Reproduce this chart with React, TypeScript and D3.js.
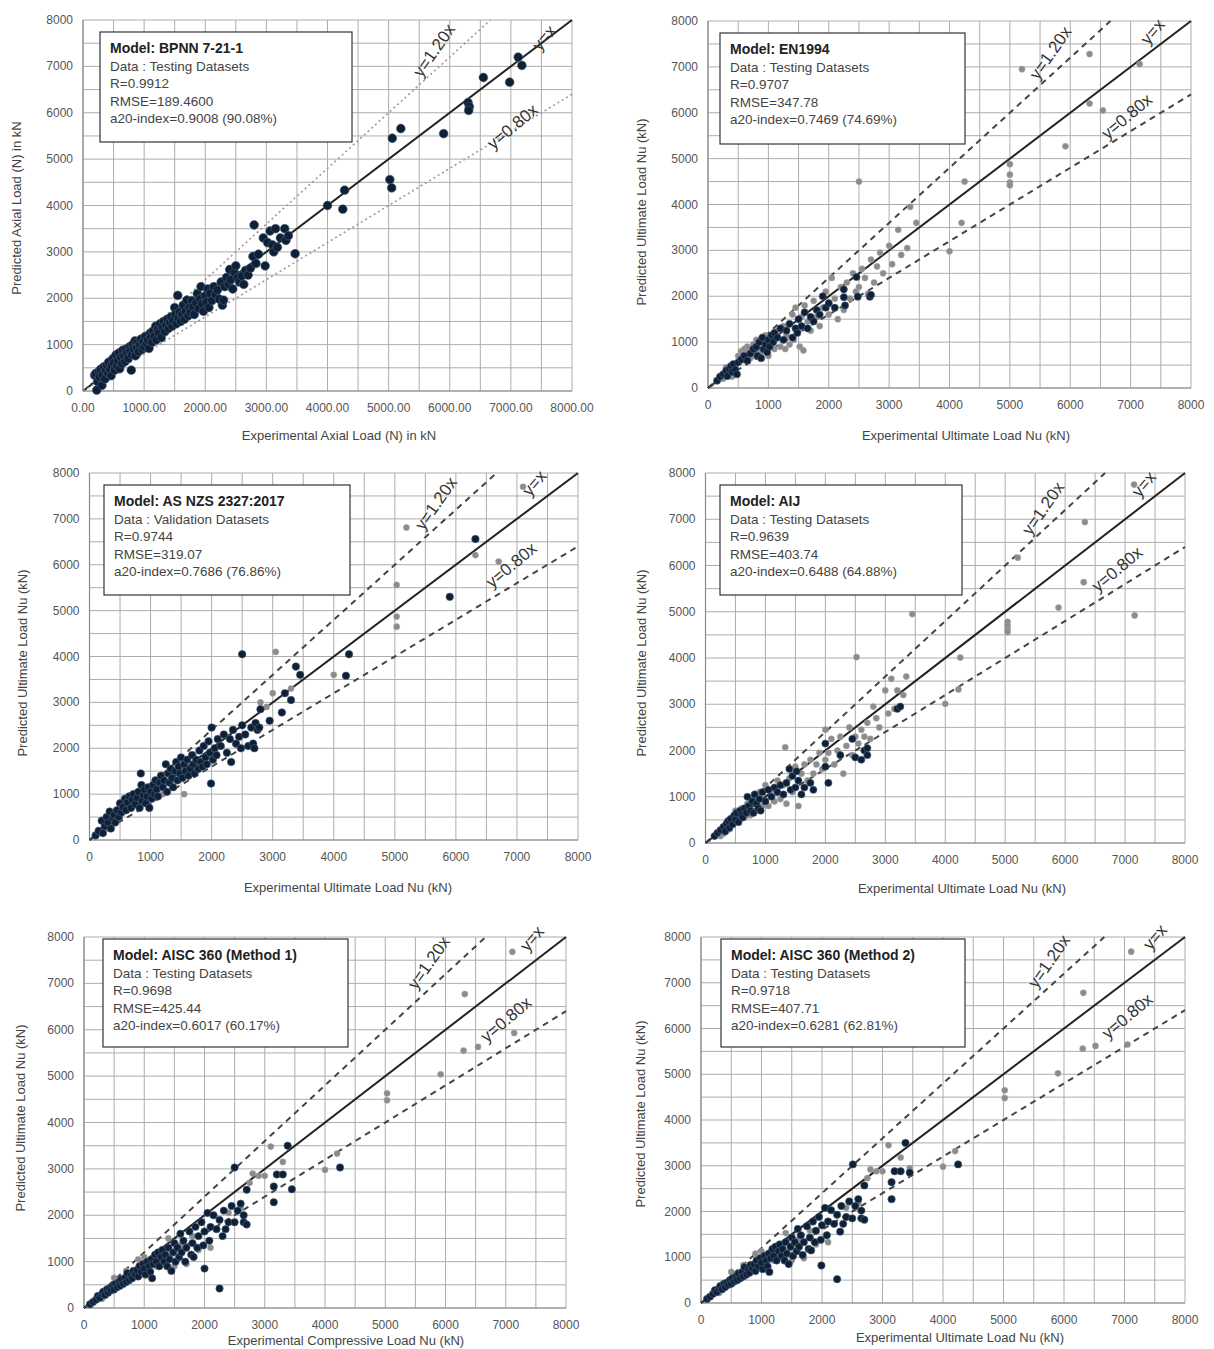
import React from "react";
import * as d3 from "d3";

// ---------- data: [experimental, predicted] in kN ----------
const bpnnPoints: [number, number][] = [
  [190,340],[210,380],[225,20],[240,200],[260,420],[275,300],[290,470],[310,120],[320,350],[340,520],[360,260],[370,440],[390,560],[410,380],[420,620],[440,480],[460,330],[470,560],[490,700],[505,610],[520,450],[540,780],[555,540],[570,660],[590,820],[600,480],[620,720],[640,590],[650,880],[670,760],[690,640],[700,900],[720,820],[740,700],[760,950],[770,860],[790,450],[800,780],[810,1000],[830,900],[850,1080],[860,760],[880,940],[900,1050],[910,850],[930,1000],[950,1120],[970,900],[990,1050],[1000,950],[1020,1180],[1040,1020],[1060,1100],[1080,920],[1100,1250],[1110,1150],[1130,1050],[1150,1300],[1170,1180],[1190,1400],[1200,1100],[1220,1320],[1240,1250],[1260,1450],[1280,1150],[1300,1380],[1320,1500],[1340,1280],[1360,1420],[1380,1550],[1400,1350],[1420,1480],[1440,1600],[1460,1400],[1480,1520],[1500,1800],[1510,1650],[1530,1450],[1550,2060],[1560,1580],[1580,1700],[1600,1500],[1620,1650],[1640,1850],[1660,1550],[1680,1720],[1700,1960],[1720,1620],[1740,1800],[1760,1700],[1780,1950],[1800,1820],[1820,1650],[1850,1900],[1870,2100],[1890,1780],[1910,1980],[1930,2250],[1950,1880],[1970,1720],[2000,2050],[2020,1920],[2040,2200],[2060,1800],[2080,2100],[2110,1950],[2140,2250],[2170,2080],[2200,2180],[2230,1980],[2260,2350],[2280,1850],[2300,1960],[2320,2250],[2350,2450],[2380,2300],[2400,2620],[2420,2400],[2450,2200],[2480,2550],[2500,2700],[2530,2450],[2560,2350],[2600,2480],[2630,2300],[2660,2600],[2700,2500],[2740,2650],[2780,2900],[2800,3580],[2830,2750],[2870,2950],[2950,3300],[2980,2700],[3020,3200],[3060,3450],[3100,3150],[3120,3000],[3150,3500],[3180,3100],[3230,3300],[3300,3500],[3320,3250],[3360,3350],[3470,2960],
  [4000,4000],[4250,3920],[4280,4330],[5020,4560],[5050,4380],[5060,5450],[5200,5660],[5900,5550],[6300,6220],[6320,6130],[6310,6050],[6550,6760],[6980,6660],[7120,7200],[7180,7020]
];

const en1994Dark: [number, number][] = [
  [150,160],[200,250],[250,300],[300,380],[320,260],[350,420],[380,480],[400,350],[420,520],[450,400],[480,300],[500,560],[550,620],[600,700],[650,600],[700,750],[750,850],[800,900],[820,700],[850,1000],[880,650],[900,1100],[920,850],[950,950],[980,780],[1000,1050],[1020,900],[1050,1150],[1080,1000],[1100,1200],[1150,1100],[1200,1300],[1250,1050],[1300,1250],[1350,1400],[1400,1100],[1450,1300],[1480,1200],[1500,1500],[1550,1350],[1600,1650],[1650,1300],[1700,1550],[1750,1450],[1800,1700],[1850,1600],[1900,2000],[1950,1750],[2000,1850],[2100,1750],[2250,1980],[2270,1800],[2250,2150],[2480,1990],[2460,2420],[2680,1990],[2700,2030]
];
const en1994Gray: [number, number][] = [
  [250,200],[300,450],[400,250],[500,700],[550,800],[600,850],[620,600],[650,900],[680,780],[700,650],[750,950],[780,700],[800,1050],[850,750],[900,800],[950,1150],[1000,700],[1050,950],[1100,850],[1150,1250],[1200,900],[1250,1350],[1280,850],[1300,1150],[1350,950],[1400,1600],[1420,1050],[1450,1750],[1500,1250],[1520,900],[1550,1550],[1580,820],[1600,1800],[1650,1450],[1700,1250],[1750,1900],[1800,1550],[1850,1350],[1900,1750],[1950,2100],[2000,1600],[2050,2400],[2100,1950],[2150,1500],[2200,2200],[2250,1700],[2300,2300],[2350,1950],[2400,2500],[2450,2100],[2500,2200],[2550,2600],[2600,2400],[2650,2050],[2700,2800],[2750,2300],[2800,2650],[2850,2950],[2900,2500],[3000,3100],[3050,2700],[3150,3450],[3200,2900],[3300,3050],[3350,3950],[3450,3600],[2500,4500],[4000,2980],[4200,3600],[4250,4500],[5000,4880],[5000,4650],[5000,4480],[5000,4420],[5200,6950],[5920,5270],[6320,7280],[6320,6200],[6540,6050],[7150,7060]
];

const asnzsDark: [number, number][] = [
  [100,100],[150,200],[200,420],[220,150],[250,300],[280,500],[300,380],[330,620],[350,250],[380,480],[400,550],[420,380],[450,650],[480,500],[500,800],[520,600],[550,720],[580,900],[600,650],[620,820],[650,950],[680,700],[700,880],[720,1000],[750,780],[780,920],[800,1050],[820,700],[840,1450],[850,1200],[860,850],[880,980],[900,1100],[920,800],[940,950],[960,1150],[980,700],[1000,1050],[1020,900],[1040,1200],[1060,1000],[1080,1300],[1100,1100],[1120,950],[1150,1250],[1170,1400],[1200,1150],[1220,1300],[1250,1650],[1270,1050],[1290,1450],[1310,1250],[1330,1550],[1350,1350],[1370,1150],[1400,1500],[1420,1700],[1440,1300],[1460,1600],[1480,1450],[1500,1800],[1520,1350],[1550,1650],[1570,1500],[1600,1750],[1620,1400],[1650,1550],[1680,1850],[1700,1650],[1720,1450],[1750,1750],[1780,1550],[1800,1950],[1820,1700],[1850,1600],[1870,2050],[1900,1800],[1920,1650],[1950,2150],[1970,1900],[1990,1230],[2000,2450],[2020,1750],[2050,2000],[2080,1850],[2100,2200],[2150,2050],[2200,2300],[2250,1900],[2300,2200],[2320,1700],[2350,2400],[2400,2100],[2450,2250],[2480,2000],[2500,2500],[2550,2300],[2600,2050],[2650,2450],[2680,2100],[2700,2000],[2720,2550],[2750,2400],[2800,2850],[2780,2450],[2950,2600],[3150,2780],[3200,3200],[3300,3050],[3380,3780],[3450,3600],[2500,4050],[4200,3580],[4250,4050],[5900,5300],[6320,6560]
];
const asnzsGray: [number, number][] = [
  [300,250],[600,900],[1200,1000],[1550,1000],[1700,1850],[2800,3000],[2900,2900],[3000,3200],[3050,4100],[3300,3300],[4000,3600],[5030,5560],[5030,4870],[5030,4650],[5190,6810],[6320,6210],[6700,6070],[7100,7700]
];

const aijDark: [number, number][] = [
  [150,150],[200,220],[250,280],[300,350],[330,250],[350,420],[380,480],[400,330],[420,520],[450,400],[480,600],[500,500],[520,650],[550,450],[580,700],[600,600],[620,550],[650,750],[680,650],[700,1000],[720,800],[750,700],[780,900],[800,650],[820,1050],[850,850],[880,750],[900,950],[920,700],[950,1100],[1000,900],[1050,1150],[1100,1000],[1150,1200],[1200,1100],[1250,1250],[1300,1050],[1350,1300],[1400,1600],[1420,1150],[1450,1450],[1500,1200],[1520,1550],[1550,1350],[1600,1050],[1650,1200],[1750,1300],[1800,1150],[2000,2150],[2050,1300],[2000,1650],[2250,1900],[2450,2250],[2500,1850],[2600,1800],[2650,2000],[2700,1900],[2700,2050],[3200,2900],[3250,2950]
];
const aijGray: [number, number][] = [
  [250,150],[300,200],[400,300],[450,550],[500,700],[550,650],[600,750],[650,550],[700,850],[750,600],[800,950],[850,700],[900,1100],[950,800],[1000,1250],[1050,800],[1100,1150],[1150,900],[1200,1350],[1250,950],[1300,1250],[1330,2070],[1350,850],[1400,1400],[1450,1100],[1500,1650],[1550,800],[1600,1500],[1650,1700],[1700,1350],[1750,1800],[1800,1500],[1850,1700],[1900,1950],[1950,1600],[2000,1800],[2000,2450],[2050,1950],[2100,2250],[2150,1700],[2200,2000],[2250,2300],[2300,1500],[2350,2100],[2400,2500],[2450,1900],[2500,2300],[2550,2150],[2600,2450],[2650,2300],[2700,2600],[2750,2250],[2800,2950],[2850,2700],[2900,2500],[3000,3300],[3050,2800],[3100,3550],[3150,2900],[3200,3300],[3300,3200],[3350,3600],[3450,4950],[2520,4020],[4000,3010],[4220,3320],[4250,4010],[5040,4780],[5040,4700],[5040,4620],[5040,4560],[5210,6170],[5890,5090],[6310,5640],[6330,6940],[7160,4920],[7150,7750]
];

const aisc1Dark: [number, number][] = [
  [100,80],[150,130],[200,180],[230,260],[260,220],[300,300],[320,350],[350,280],[380,400],[400,330],[420,420],[450,380],[480,480],[500,400],[520,520],[550,450],[580,560],[600,480],[620,620],[650,520],[680,650],[700,560],[720,750],[750,600],[780,700],[800,640],[820,800],[850,720],[880,820],[900,680],[920,900],[950,780],[980,950],[1000,850],[1020,720],[1050,1000],[1080,900],[1100,780],[1120,1050],[1130,640],[1150,950],[1180,1150],[1200,1000],[1230,1200],[1250,900],[1280,1100],[1300,1250],[1330,1000],[1350,1150],[1380,900],[1400,1300],[1420,1050],[1450,800],[1480,1200],[1500,1400],[1520,1000],[1550,1300],[1580,1100],[1600,1600],[1620,1200],[1650,1450],[1680,1000],[1700,1300],[1750,1650],[1780,1150],[1800,1400],[1820,1100],[1850,1750],[1880,1300],[1900,1550],[1950,1850],[1980,1350],[2000,1650],[2000,850],[2050,2050],[2080,1450],[2100,1750],[2150,2000],[2200,1700],[2250,1900],[2250,420],[2300,1550],[2320,2100],[2350,1700],[2400,1850],[2450,2200],[2500,1850],[2500,3030],[2550,2100],[2600,2250],[2650,1850],[2650,2000],[2700,2550],[2700,1800],[3150,2280],[3150,2620],[3200,2880],[3300,2880],[3380,3500],[3450,2560],[4250,3030]
];
const aisc1Gray: [number, number][] = [
  [300,200],[500,650],[700,800],[900,1050],[1000,1100],[1200,900],[1400,1500],[1500,900],[1600,1350],[1700,950],[1800,1550],[1900,1250],[2100,1300],[2400,2050],[2600,2150],[2750,2700],[2800,2900],[2900,2850],[3100,3480],[3300,3150],[3000,2850],[4000,2980],[4200,3330],[5030,4630],[5030,4480],[5920,5040],[6300,5550],[6540,5630],[7140,5930],[6320,6770],[7110,7680]
];

const aisc2Dark: [number, number][] = [
  [100,90],[150,140],[200,200],[230,280],[260,240],[300,320],[320,370],[350,300],[380,420],[400,350],[420,440],[450,400],[480,500],[500,420],[520,540],[550,470],[580,580],[600,500],[620,640],[650,540],[680,680],[700,580],[720,780],[750,620],[780,730],[800,660],[820,830],[850,750],[880,850],[900,700],[920,930],[950,800],[980,980],[1000,880],[1020,740],[1050,1030],[1080,930],[1100,800],[1120,1080],[1130,680],[1150,980],[1180,1180],[1200,1030],[1230,1230],[1250,930],[1280,1130],[1300,1280],[1330,1030],[1350,1180],[1380,930],[1400,1330],[1420,1080],[1450,850],[1480,1230],[1500,1430],[1520,1030],[1550,1330],[1580,1130],[1600,1620],[1620,1230],[1650,1480],[1680,1050],[1700,1330],[1750,1680],[1780,1180],[1800,1430],[1820,1150],[1850,1780],[1880,1330],[1900,1580],[1950,1880],[1980,1380],[2000,1700],[1990,820],[2050,2080],[2080,1480],[2100,1780],[2150,2030],[2200,1730],[2250,1930],[2250,520],[2300,1560],[2320,2120],[2350,1730],[2400,1880],[2450,2220],[2500,1850],[2510,3030],[2550,2120],[2600,2270],[2650,1850],[2650,2020],[2700,2570],[2700,1820],[3150,2270],[3150,2640],[3200,2880],[3300,2880],[3380,3500],[3450,2850],[4250,3030]
];
const aisc2Gray: [number, number][] = [
  [300,220],[500,680],[700,830],[900,1080],[1000,1130],[1200,930],[1400,1530],[1500,930],[1600,1380],[1700,980],[1800,1580],[1900,1280],[2100,1330],[2400,2080],[2600,2180],[2750,2730],[2800,2920],[2900,2880],[3100,3450],[3300,3180],[3000,2880],[3450,2950],[4000,2980],[4200,3320],[5020,4650],[5020,4480],[5900,5020],[6310,5560],[6520,5620],[7050,5650],[6320,6780],[7110,7680]
];

const axisTicks = [0, 1000, 2000, 3000, 4000, 5000, 6000, 7000, 8000];
const gridValues = d3.range(0, 8001, 500);
const guideRatios = [1.2, 1.0, 0.8];

// ---------- layout of the six panels ----------
type Panel = {
  lines: string[];
  dark: [number, number][];
  gray: [number, number][];
  frame: { l: number; t: number; r: number; b: number };
  box: { x: number; y: number; w: number; h: number };
  xLabel: string;
  yLabel: string;
  xLabelPos: [number, number];
  yLabelPos: [number, number];
  xFmt: (v: number) => string;
  dotted: boolean;
  darkR: number;
  guideLabels: { text: string; at: [number, number]; rot: number }[];
};

const intFmt = (v: number) => String(v);
const decFmt = (v: number) => v.toFixed(2);

const guideText = (a: [number, number], b: [number, number], c: [number, number]) => [
  { text: "y=1.20x", at: a, rot: -55 },
  { text: "y=x", at: b, rot: -50 },
  { text: "y=0.80x", at: c, rot: -40 },
];

const panels: Panel[] = [
  {
    lines: ["Model: BPNN 7-21-1", "Data : Testing Datasets", "R=0.9912", "RMSE=189.4600", "a20-index=0.9008 (90.08%)"],
    dark: bpnnPoints, gray: [],
    frame: { l: 83, t: 20, r: 572, b: 391 },
    box: { x: 100, y: 32, w: 252, h: 110 },
    xLabel: "Experimental Axial Load (N) in kN", yLabel: "Predicted Axial Load (N) in kN",
    xLabelPos: [339, 440], yLabelPos: [18, 208], xFmt: decFmt, dotted: true, darkR: 4.4,
    guideLabels: guideText([5760, 7330], [7560, 7600], [7040, 5680]),
  },
  {
    lines: ["Model: EN1994", "Data : Testing Datasets", "R=0.9707", "RMSE=347.78", "a20-index=0.7469 (74.69%)"],
    dark: en1994Dark, gray: en1994Gray,
    frame: { l: 708, t: 21, r: 1191, b: 388 },
    box: { x: 720, y: 33, w: 245, h: 111 },
    xLabel: "Experimental  Ultimate  Load Nu (kN)", yLabel: "Predicted Ultimate  Load Nu (kN)",
    xLabelPos: [966, 440], yLabelPos: [643, 212], xFmt: intFmt, dotted: false, darkR: 3.6,
    guideLabels: guideText([5690, 7290], [7380, 7750], [6950, 5900]),
  },
  {
    lines: ["Model: AS NZS 2327:2017", "Data : Validation Datasets", "R=0.9744", "RMSE=319.07", "a20-index=0.7686 (76.86%)"],
    dark: asnzsDark, gray: asnzsGray,
    frame: { l: 89.5, t: 473, r: 578, b: 840 },
    box: { x: 104, y: 485, w: 246, h: 110 },
    xLabel: "Experimental  Ultimate  Load Nu (kN)", yLabel: "Predicted  Ultimate  Load Nu (kN)",
    xLabelPos: [348, 892], yLabelPos: [24, 663], xFmt: intFmt, dotted: false, darkR: 3.8,
    guideLabels: guideText([5690, 7320], [7300, 7760], [6920, 5970]),
  },
  {
    lines: ["Model: AIJ", "Data : Testing Datasets", "R=0.9639", "RMSE=403.74", "a20-index=0.6488 (64.88%)"],
    dark: aijDark, gray: aijGray,
    frame: { l: 705.5, t: 473, r: 1185, b: 843 },
    box: { x: 720, y: 485, w: 242, h: 110 },
    xLabel: "Experimental  Ultimate  Load Nu (kN)", yLabel: "Predicted Ultimate  Load Nu (kN)",
    xLabelPos: [962, 893], yLabelPos: [643, 663], xFmt: intFmt, dotted: false, darkR: 3.6,
    guideLabels: guideText([5650, 7220], [7330, 7740], [6880, 5900]),
  },
  {
    lines: ["Model: AISC 360 (Method 1)", "Data : Testing Datasets", "R=0.9698", "RMSE=425.44", "a20-index=0.6017 (60.17%)"],
    dark: aisc1Dark, gray: aisc1Gray,
    frame: { l: 84, t: 937, r: 566, b: 1308 },
    box: { x: 103, y: 939, w: 245, h: 108 },
    xLabel: "Experimental  Compressive Load Nu (kN)", yLabel: "Predicted Ultimate  Load Nu (kN)",
    xLabelPos: [346, 1345], yLabelPos: [22, 1118], xFmt: intFmt, dotted: false, darkR: 3.7,
    guideLabels: guideText([5740, 7430], [7450, 7950], [7020, 6200]),
  },
  {
    lines: ["Model: AISC 360 (Method 2)", "Data : Testing Datasets", "R=0.9718", "RMSE=407.71", "a20-index=0.6281 (62.81%)"],
    dark: aisc2Dark, gray: aisc2Gray,
    frame: { l: 701, t: 937, r: 1185, b: 1303 },
    box: { x: 721, y: 939, w: 244, h: 108 },
    xLabel: "Experimental  Ultimate  Load Nu (kN)", yLabel: "Predicted Ultimate  Load Nu (kN)",
    xLabelPos: [960, 1342], yLabelPos: [642, 1114], xFmt: intFmt, dotted: false, darkR: 3.7,
    guideLabels: guideText([5770, 7450], [7520, 7980], [7060, 6250]),
  },
];

const FONT = "Arial, 'Liberation Sans', sans-serif";

function ScatterPanel({ p }: { p: Panel }) {
  const x = d3.scaleLinear().domain([0, 8000]).range([p.frame.l, p.frame.r]);
  const y = d3.scaleLinear().domain([0, 8000]).range([p.frame.b, p.frame.t]);
  const line = d3.line<[number, number]>().x((d) => x(d[0])).y((d) => y(d[1]));

  return (
    <g>
      {/* grid */}
      {gridValues.map((v) => (
        <line key={"gx" + v} x1={x(v)} x2={x(v)} y1={y(0)} y2={y(8000)} stroke="#adadad" strokeWidth={1} />
      ))}
      {gridValues.map((v) => (
        <line key={"gy" + v} x1={x(0)} x2={x(8000)} y1={y(v)} y2={y(v)} stroke="#adadad" strokeWidth={1} />
      ))}
      <line x1={x(0)} x2={x(0)} y1={y(0)} y2={y(8000)} stroke="#8a8a8a" strokeWidth={1.2} />
      <line x1={x(0)} x2={x(8000)} y1={y(0)} y2={y(0)} stroke="#8a8a8a" strokeWidth={1.2} />

      {/* tick labels */}
      {axisTicks.map((v) => (
        <text key={"ty" + v} x={x(0) - 10} y={y(v) + 4} textAnchor="end" fontSize={12} fill="#555" fontFamily={FONT}>
          {v}
        </text>
      ))}
      {axisTicks.map((v) => (
        <text key={"tx" + v} x={x(v)} y={y(0) + 21} textAnchor="middle" fontSize={12} fill="#555" fontFamily={FONT}>
          {p.xFmt(v)}
        </text>
      ))}

      {/* axis titles */}
      <text x={p.xLabelPos[0]} y={p.xLabelPos[1]} textAnchor="middle" fontSize={13} fill="#444" fontFamily={FONT}>
        {p.xLabel}
      </text>
      <text
        transform={`translate(${p.yLabelPos[0]},${p.yLabelPos[1]}) rotate(-90)`}
        textAnchor="middle" dominantBaseline="middle" fontSize={13} fill="#444" fontFamily={FONT}
      >
        {p.yLabel}
      </text>

      {/* guide lines y = k x */}
      {guideRatios.map((k) => {
        const end: [number, number] = k > 1 ? [8000 / k, 8000] : [8000, 8000 * k];
        const d = line([[0, 0], end]) as string;
        if (k === 1) return <path key={k} d={d} stroke="#222" strokeWidth={2} fill="none" />;
        return p.dotted ? (
          <path key={k} d={d} stroke="#9a9a9a" strokeWidth={1.6} strokeDasharray="2,3" fill="none" />
        ) : (
          <path key={k} d={d} stroke="#444" strokeWidth={2} strokeDasharray="6,5" fill="none" />
        );
      })}

      {/* points */}
      {p.gray.map((d, i) => (
        <circle key={"g" + i} cx={x(d[0])} cy={y(d[1])} r={3.1} fill="#8c8c8c" stroke="#a8a8a8" strokeWidth={0.5} />
      ))}
      {p.dark.map((d, i) => (
        <circle key={"d" + i} cx={x(d[0])} cy={y(d[1])} r={p.darkR} fill="#0f1f36" stroke="#4a6580" strokeWidth={0.6} />
      ))}

      {/* guide labels */}
      {p.guideLabels.map((g) => (
        <text
          key={g.text}
          transform={`translate(${x(g.at[0])},${y(g.at[1])}) rotate(${g.rot})`}
          textAnchor="middle" dominantBaseline="middle" fontSize={17} fill="#333" fontFamily={FONT}
        >
          {g.text}
        </text>
      ))}

      {/* statistics box */}
      <rect x={p.box.x} y={p.box.y} width={p.box.w} height={p.box.h} fill="#fff" stroke="#333" strokeWidth={1.2} />
      {p.lines.map((t, i) => (
        <text
          key={i}
          x={p.box.x + 10}
          y={p.box.y + 21 + i * 17.5}
          fontSize={i === 0 ? 14 : 13.5}
          fontWeight={i === 0 ? "bold" : "normal"}
          fill={i === 0 ? "#222" : "#444"}
          fontFamily={FONT}
        >
          {t}
        </text>
      ))}
    </g>
  );
}

export default function App() {
  return (
    <svg
      width={1214}
      height={1349}
      viewBox="0 0 1214 1349"
      style={{ position: "absolute", left: 0, top: 0, background: "#fff" }}
    >
      <rect x={0} y={0} width={1214} height={1349} fill="#fff" />
      {panels.map((p, i) => (
        <ScatterPanel key={i} p={p} />
      ))}
    </svg>
  );
}
